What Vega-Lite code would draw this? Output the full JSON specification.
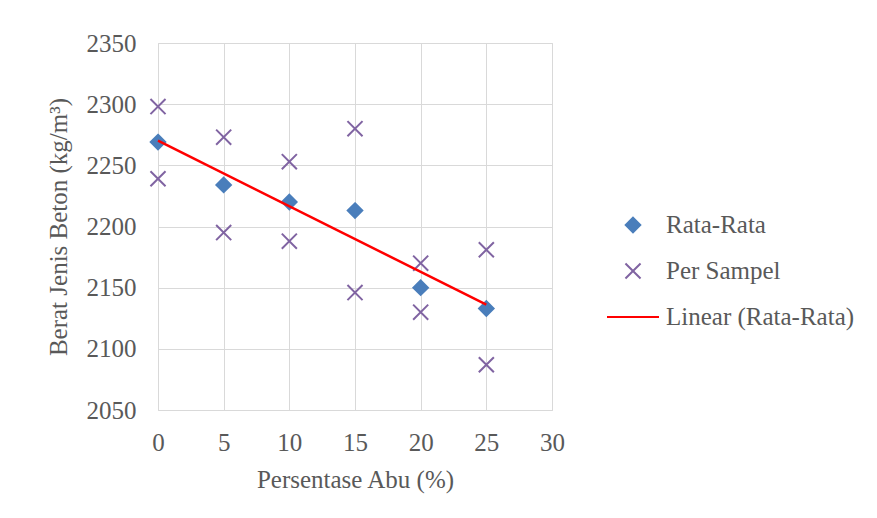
{
  "$schema": "https://vega.github.io/schema/vega-lite/v6.json",
  "width": 394,
  "height": 367,
  "autosize": {"type": "none"},
  "padding": {"left": 158, "top": 43, "right": 325, "bottom": 108},
  "background": "white",
  "config": {
    "font": "Liberation Serif",
    "view": {"stroke": "#d9d9d9", "strokeWidth": 1},
    "axis": {
      "gridColor": "#d9d9d9",
      "gridWidth": 1,
      "domain": false,
      "ticks": false,
      "tickSize": 0,
      "labelFlush": false,
      "labelFont": "Liberation Serif",
      "labelFontSize": 25,
      "labelColor": "#595959",
      "titleFont": "Liberation Serif",
      "titleFontSize": 25,
      "titleFontWeight": "normal",
      "titleColor": "#595959"
    },
    "axisX": {"labelPadding": 20, "titlePadding": 12},
    "axisY": {"labelPadding": 22, "titlePadding": 15},
    "legend": {
      "title": null, "orient": "none", "legendX": 448, "legendY": 155, "padding": 0,
      "labelOffset": 6, "symbolSize": 2704, "symbolStrokeWidth": 2,
      "labelFont": "Liberation Serif", "labelFontSize": 25, "labelColor": "#595959", "labelLimit": 400,
      "symbolOpacity": 1
    }
  },
  "data": {
    "values": [
      {"x": 0, "y": 2269, "series": "Rata-Rata"},
      {"x": 5, "y": 2234, "series": "Rata-Rata"},
      {"x": 10, "y": 2220, "series": "Rata-Rata"},
      {"x": 15, "y": 2213, "series": "Rata-Rata"},
      {"x": 20, "y": 2150, "series": "Rata-Rata"},
      {"x": 25, "y": 2133, "series": "Rata-Rata"},
      {"x": 0, "y": 2298, "series": "Per Sampel"},
      {"x": 0, "y": 2239, "series": "Per Sampel"},
      {"x": 5, "y": 2273, "series": "Per Sampel"},
      {"x": 5, "y": 2195, "series": "Per Sampel"},
      {"x": 10, "y": 2253, "series": "Per Sampel"},
      {"x": 10, "y": 2188, "series": "Per Sampel"},
      {"x": 15, "y": 2280, "series": "Per Sampel"},
      {"x": 15, "y": 2146, "series": "Per Sampel"},
      {"x": 20, "y": 2170, "series": "Per Sampel"},
      {"x": 20, "y": 2130, "series": "Per Sampel"},
      {"x": 25, "y": 2181, "series": "Per Sampel"},
      {"x": 25, "y": 2087, "series": "Per Sampel"}
    ]
  },
  "layer": [
    {
      "mark": {"type": "point", "filled": true, "opacity": 1, "strokeWidth": 2, "size": 2704},
      "encoding": {
        "x": {"field": "x", "type": "quantitative", "scale": {"domain": [0, 30], "nice": false}, "axis": {"values": [0, 5, 10, 15, 20, 25, 30], "format": "d", "title": "Persentase Abu (%)"}},
        "y": {"field": "y", "type": "quantitative", "scale": {"domain": [2050, 2350], "zero": false, "nice": false}, "axis": {"values": [2050, 2100, 2150, 2200, 2250, 2300, 2350], "format": "d", "title": "Berat Jenis Beton (kg/m³)"}},
        "fill": {
          "field": "series", "type": "nominal",
          "scale": {"domain": ["Rata-Rata", "Per Sampel", "Linear (Rata-Rata)"], "range": ["#4a7ebb", "#8064a2", "#ff0000"]},
          "legend": {"rowPadding": 6}
        },
        "stroke": {
          "field": "series", "type": "nominal",
          "scale": {"domain": ["Rata-Rata", "Per Sampel", "Linear (Rata-Rata)"], "range": ["#4a7ebb", "#8064a2", "#ff0000"]},
          "legend": {"rowPadding": 6}
        },
        "shape": {
          "field": "series", "type": "nominal",
          "scale": {"domain": ["Rata-Rata", "Per Sampel", "Linear (Rata-Rata)"], "range": ["M0,-0.28L0.28,0L0,0.28L-0.28,0Z", "M-0.29,-0.29L0.29,0.29M-0.29,0.29L0.29,-0.29", "M-1,0L1,0"]},
          "legend": {"rowPadding": 6}
        }
      }
    },
    {
      "transform": [
        {"filter": "datum.series === 'Rata-Rata'"},
        {"regression": "y", "on": "x", "method": "linear", "extent": [0, 25]}
      ],
      "mark": {"type": "line", "color": "#ff0000", "strokeWidth": 2.5},
      "encoding": {
        "x": {"field": "x", "type": "quantitative"},
        "y": {"field": "y", "type": "quantitative"}
      }
    }
  ]
}
